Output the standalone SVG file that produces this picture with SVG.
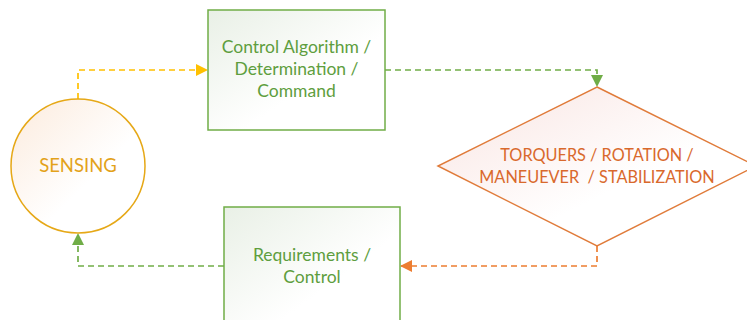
<svg xmlns="http://www.w3.org/2000/svg" width="747" height="320" viewBox="0 0 747 320">
<style>
.t{font-family:Lato,"Open Sans","Liberation Sans",sans-serif;font-size:17.5px;text-anchor:middle}
.g{fill:#5E9E3E}
.o{fill:#D9692C}
.y{fill:#E3A21A}
.c{fill:none;stroke-width:1.7;stroke-dasharray:6,4}
</style>
<defs>
<linearGradient id="gg" x1="0" y1="0" x2="1" y2="1">
<stop offset="0" stop-color="#E9F0E6"/><stop offset="0.6" stop-color="#FFFFFF"/>
</linearGradient>
<linearGradient id="go" x1="0" y1="0" x2="1" y2="1">
<stop offset="0" stop-color="#FCEBDD"/><stop offset="0.6" stop-color="#FFFFFF"/>
</linearGradient>
<linearGradient id="gp" x1="0" y1="0" x2="1" y2="1">
<stop offset="0.2" stop-color="#FBEDEB"/><stop offset="0.6" stop-color="#FFFFFF"/>
</linearGradient>
<marker id="ay" viewBox="0 0 10 10" refX="10" refY="5" markerWidth="13" markerHeight="12" markerUnits="userSpaceOnUse" orient="auto"><path d="M0,0L10,5L0,10z" fill="#FFC000"/></marker>
<marker id="ag" viewBox="0 0 10 10" refX="10" refY="5" markerWidth="13" markerHeight="12" markerUnits="userSpaceOnUse" orient="auto"><path d="M0,0L10,5L0,10z" fill="#70AD47"/></marker>
<marker id="ao" viewBox="0 0 10 10" refX="10" refY="5" markerWidth="13" markerHeight="12" markerUnits="userSpaceOnUse" orient="auto"><path d="M0,0L10,5L0,10z" fill="#ED7D31"/></marker>
</defs>
<g id="connectors">
<path class="c" d="M78,99V70H208" stroke="#FFC000" marker-end="url(#ay)"/>
<path class="c" d="M385,70H597V87" stroke="#70AD47" marker-end="url(#ag)"/>
<path class="c" d="M597,246V266H400" stroke="#ED7D31" marker-end="url(#ao)"/>
<path class="c" d="M224,266H78V233" stroke="#70AD47" marker-end="url(#ag)"/>
</g>
<g id="sensing">
<circle cx="78" cy="166" r="67" fill="url(#go)" stroke="#E6A817" stroke-width="1.5"/>
<text class="t y" x="78" y="172" style="font-size:18.5px">SENSING</text>
</g>
<g id="control-algorithm">
<rect x="208" y="10" width="177" height="120" fill="url(#gg)" stroke="#70AD47" stroke-width="1.5"/>
<text class="t g" x="296.5" y="53">Control Algorithm /</text>
<text class="t g" x="296.5" y="75">Determination /</text>
<text class="t g" x="296.5" y="97">Command</text>
</g>
<g id="torquers">
<path d="M597,87L756,166L597,246L438,166Z" fill="url(#gp)" stroke="#E07B3A" stroke-width="1.5"/>
<text class="t o" x="597" y="161" style="font-size:16.3px">TORQUERS / ROTATION /</text>
<text class="t o" x="597" y="183" style="font-size:16.3px" xml:space="preserve">MANEUEVER  / STABILIZATION</text>
</g>
<g id="requirements">
<rect x="224" y="207" width="176" height="130" fill="url(#gg)" stroke="#70AD47" stroke-width="1.5"/>
<text class="t g" x="312" y="261">Requirements /</text>
<text class="t g" x="312" y="283">Control</text>
</g>
</svg>
